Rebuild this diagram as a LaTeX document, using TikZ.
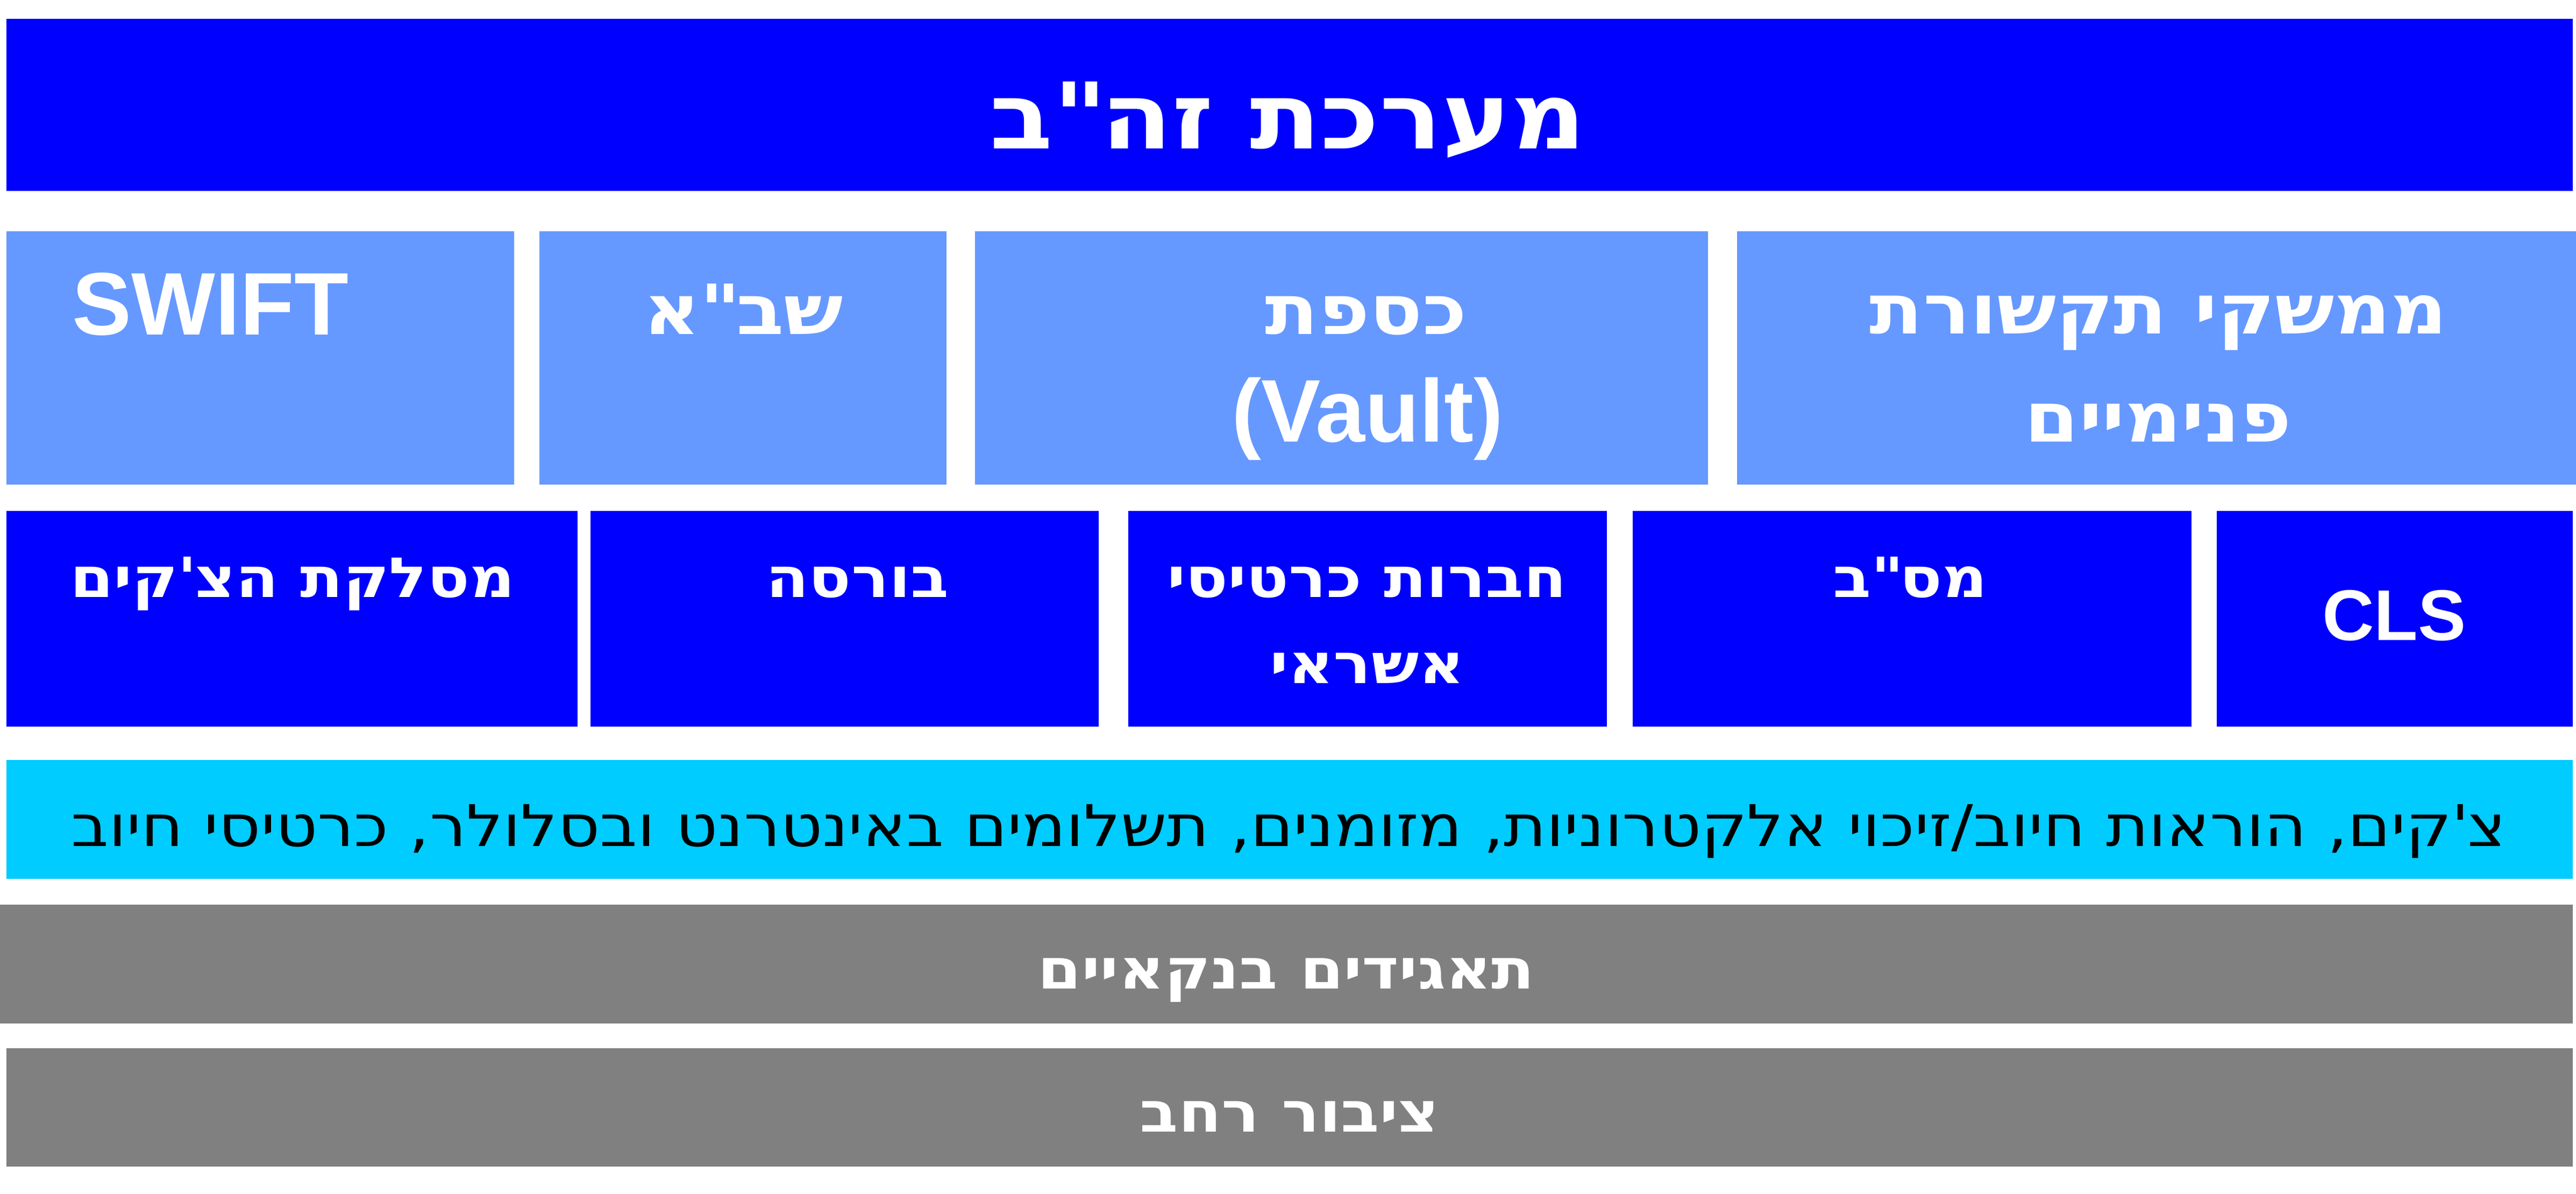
\documentclass[tikz,border=0pt]{standalone}
\usepackage{fontspec}
\setmainfont{Liberation Sans}
\newfontfamily\heb[Script=Hebrew,FakeStretch=1.13]{DejaVu Sans}
\TeXXeTstate=1
\definecolor{zblue}{HTML}{0000FF}
\definecolor{zlight}{HTML}{6699FF}
\definecolor{zcyan}{HTML}{00CCFF}
\definecolor{zgray}{HTML}{808080}
\begin{document}
\begin{tikzpicture}[x=1cm,y=-1cm,
  box/.style={rectangle,inner sep=0pt,outer sep=0pt,draw=none},
  txt/.style={inner sep=0pt,outer sep=0pt,anchor=base,text=white},
  ttitle/.style={txt,font=\heb\bfseries\fontsize{48.6pt}{56pt}\selectfont},
  tmid/.style={txt,font=\heb\bfseries\fontsize{36.6pt}{44pt}\selectfont},
  tlat/.style={txt,font=\rmfamily\bfseries\fontsize{47pt}{56pt}\selectfont},
  tlow/.style={txt,font=\heb\bfseries\fontsize{29.3pt}{35pt}\selectfont},
  tlowlat/.style={txt,font=\rmfamily\bfseries\fontsize{38pt}{46pt}\selectfont},
  tband/.style={txt,text=black,font=\heb\fontsize{30.4pt}{36pt}\selectfont},
  tgray/.style={txt,font=\heb\bfseries\fontsize{29.5pt}{35pt}\selectfont}]
\useasboundingbox (0,0) rectangle (47.90,22.19);
\fill[white] (0,0) rectangle (47.90,22.19);
% top bar
\node[box,fill=zblue,minimum width=47.72cm,minimum height=3.20cm] (top) at (23.98,1.95) {};
\node[ttitle] (ttop) at (23.95,2.76) {\beginR מערכת זה\textquotedbl ב\endR};
% row 2
\node[box,fill=zlight,minimum width=9.44cm,minimum height=4.71cm] (swift) at (4.84,6.655) {};
\node[box,fill=zlight,minimum width=7.57cm,minimum height=4.71cm] (shva) at (13.815,6.655) {};
\node[box,fill=zlight,minimum width=13.63cm,minimum height=4.71cm] (vault) at (24.945,6.655) {};
\node[box,fill=zlight,minimum width=15.60cm,minimum height=4.71cm] (iface) at (40.10,6.655) {};
\node[tlat] (tswift) at (3.91,6.22) {SWIFT};
\node[tmid] (tshva) at (13.82,6.21) {\beginR שב\textquotedbl א\endR};
\node[tmid] (tvaulta) at (25.40,6.21) {\beginR כספת\endR};
\node[tlat] (tvaultb) at (25.43,8.21) {(Vault)};
\node[tmid] (tifacea) at (40.14,6.20) {\beginR ממשקי תקשורת\endR};
\node[tmid] (tifaceb) at (40.13,8.21) {\beginR פנימיים\endR};
% row 3
\node[box,fill=zblue,minimum width=10.62cm,minimum height=4.01cm] (cheq) at (5.43,11.505) {};
\node[box,fill=zblue,minimum width=9.45cm,minimum height=4.01cm] (bursa) at (15.705,11.505) {};
\node[box,fill=zblue,minimum width=8.90cm,minimum height=4.01cm] (cards) at (25.43,11.505) {};
\node[box,fill=zblue,minimum width=10.39cm,minimum height=4.01cm] (masav) at (35.555,11.505) {};
\node[box,fill=zblue,minimum width=6.62cm,minimum height=4.01cm] (cls) at (44.53,11.505) {};
\node[tlow] (tcheq) at (5.44,11.10) {\beginR מסלקת הצ\textquotesingle קים\endR};
\node[tlow] (tbursa) at (15.94,11.10) {\beginR בורסה\endR};
\node[tlow] (tcardsa) at (25.42,11.10) {\beginR חברות כרטיסי\endR};
\node[tlow] (tcardsb) at (25.42,12.70) {\beginR אשראי\endR};
\node[tlow] (tmasav) at (35.52,11.10) {\beginR מס\textquotedbl ב\endR};
\node[tlowlat] (tcls) at (44.52,11.90) {CLS};
% cyan band
\node[box,fill=zcyan,minimum width=47.72cm,minimum height=2.21cm] (band) at (23.98,15.235) {};
\node[tband] (tband) at (23.97,15.73) {\beginR צ\textquotesingle קים, הוראות חיוב/זיכוי אלקטרוניות, מזומנים, תשלומים באינטרנט ובסלולר, כרטיסי חיוב\endR};
% gray bands
\node[box,fill=zgray,minimum width=47.84cm,minimum height=2.21cm] (banks) at (23.92,17.925) {};
\node[tgray] (tbanks) at (23.92,18.38) {\beginR תאגידים בנקאיים\endR};
\node[box,fill=zgray,minimum width=47.72cm,minimum height=2.20cm] (public) at (23.98,20.59) {};
\node[tgray] (tpublic) at (23.98,21.04) {\beginR ציבור רחב\endR};
\end{tikzpicture}
\end{document}
